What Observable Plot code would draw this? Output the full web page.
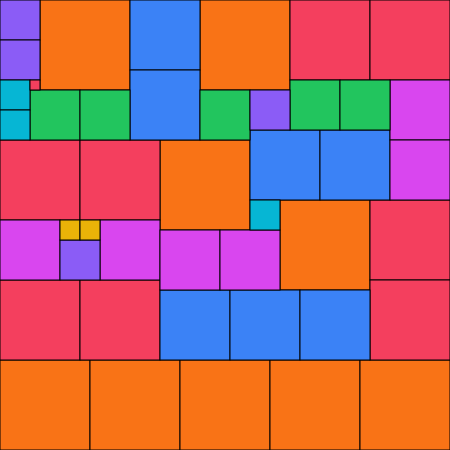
<!DOCTYPE html>
<html>
<head>
<meta charset="utf-8">
<script src="https://cdn.jsdelivr.net/npm/d3@7"></script>
<script src="https://cdn.jsdelivr.net/npm/@observablehq/plot@0.6"></script>
<style>
  html, body { margin: 0; padding: 0; background: #fff; }
  #chart svg { display: block; }
</style>
</head>
<body>
<div id="chart"></div>
<script>
// Partridge tiling: n squares of side n (n = 1..9), positions in grid units
const sizes = [9,9,9,9,9,9,9,9,9, 8,8,8,8,8,8,8,8, 7,7,7,7,7,7,7, 6,6,6,6,6,6, 5,5,5,5,5, 4,4,4,4, 3,3,3, 2,2, 1];
const xs    = [4,20,16,28,0,9,18,27,36, 29,37,0,8,37,0,8,37, 13,13,25,32,16,23,30, 39,39,0,10,16,22, 3,8,20,29,34, 0,0,25,6, 0,0,25, 6,8, 3];
const ys    = [0,0,14,20,36,36,36,36,36, 0,0,14,14,20,28,28,28, 0,7,13,13,29,29,29, 8,14,22,22,23,23, 9,9,9,8,8, 0,4,9,24, 8,11,20, 22,22, 8];
const sizeDomain = [1,2,3,4,5,6,7,8,9];
const palette = ["#f43f5e","#eab308","#06b6d4","#8b5cf6","#22c55e","#d946ef","#3b82f6","#f43f5e","#f97316"];
const gridSide = 45;

const data = sizes.map((s, i) => ({s, x: xs[i], y: ys[i]}));

const chart = Plot.plot({
  width: 450,
  height: 450,
  margin: 0,
  x: {domain: [0, gridSide], range: [0, 450], axis: null},
  y: {domain: [0, gridSide], range: [0, 450], axis: null},
  color: {type: "ordinal", domain: sizeDomain, range: palette},
  marks: [
    Plot.rect(data, {
      x1: d => d.x, x2: d => d.x + d.s,
      y1: d => d.y, y2: d => d.y + d.s,
      fill: d => d.s,
      stroke: "black",
      strokeWidth: 1
    })
  ]
});
document.getElementById("chart").appendChild(chart);
</script>
</body>
</html>
